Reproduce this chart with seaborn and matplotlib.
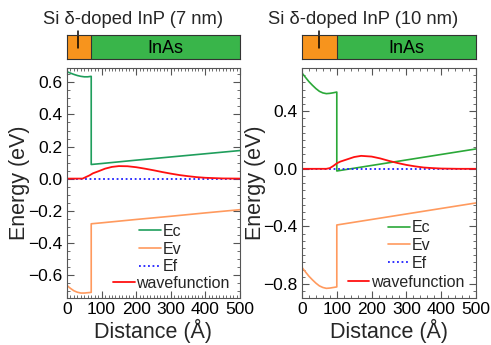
import matplotlib
matplotlib.use("Agg")
import matplotlib.pyplot as plt
from matplotlib.ticker import MultipleLocator
import seaborn as sns
import pandas as pd

sns.set_theme(style="white")
plt.rcParams['font.family'] = ['Liberation Sans', 'DejaVu Sans']

# ---------------- data ----------------
titles = ["Si δ-doped InP (7 nm)", "Si δ-doped InP (10 nm)"]
layer_label = "InAs"
inp_thickness = [70, 100]          # Å
dopant_pos = [32, 49]              # Å
legend_labels = ["Ec", "Ev", "Ef", "wavefunction"]

# left panel (7 nm)
xb_L = [0, 10, 20, 30, 40, 50, 60, 70, 70, 100, 200, 300, 400, 500]
Ec_L = [0.667, 0.658, 0.650, 0.643, 0.638, 0.635, 0.635, 0.638, 0.088, 0.094, 0.115, 0.135, 0.155, 0.175]
Ev_L = [-0.667, -0.685, -0.700, -0.709, -0.714, -0.714, -0.712, -0.710, -0.282, -0.276, -0.255, -0.235, -0.214, -0.194]
xw_L = [0, 45, 55, 65, 75, 90, 110, 130, 150, 175, 200, 225, 250, 275, 300, 325, 350, 375, 400, 450, 500]
wf_L = [0, 0, 0.010, 0.020, 0.033, 0.045, 0.062, 0.073, 0.078, 0.077, 0.071, 0.062, 0.052, 0.041, 0.031, 0.022, 0.015, 0.009, 0.005, 0.001, 0]

# right panel (10 nm)
xb_R = [0, 10, 20, 30, 40, 50, 60, 70, 80, 90, 100, 100, 500]
Ec_R = [0.665, 0.635, 0.605, 0.580, 0.557, 0.538, 0.527, 0.522, 0.524, 0.528, 0.533, -0.015, 0.138]
Ev_R = [-0.685, -0.716, -0.746, -0.771, -0.794, -0.813, -0.824, -0.830, -0.828, -0.824, -0.820, -0.390, -0.237]
xw_R = [0, 70, 80, 90, 100, 110, 125, 150, 170, 200, 225, 250, 275, 300, 325, 350, 375, 400, 450, 500]
wf_R = [0, 0, 0.005, 0.020, 0.038, 0.050, 0.062, 0.082, 0.090, 0.085, 0.072, 0.055, 0.040, 0.027, 0.017, 0.009, 0.005, 0.002, 0, 0]

xf = [0, 500]
Ef = [0, 0]

panels = [
    dict(xb=xb_L, Ec=Ec_L, Ev=Ev_L, xw=xw_L, wf=wf_L, ylim=(-0.745, 0.69),
         ymaj=0.2, ymin=0.05, xmin_tick=10, ec_color="#1f9e5c",
         leg1=(0.416, 0.212), leg2=(0.266, 0.064)),
    dict(xb=xb_R, Ec=Ec_R, Ev=Ev_R, xw=xw_R, wf=wf_R, ylim=(-0.897, 0.70),
         ymaj=0.4, ymin=0.05, xmin_tick=20, ec_color="#2aa838",
         leg1=(0.494, 0.228), leg2=(0.264, 0.069)),
]

# ---------------- figure ----------------
W, H = 491, 345
fig = plt.figure(figsize=(W / 100, H / 100), dpi=100)

def frac(x0, y0, x1, y1):
    return [x0 / W, 1 - y1 / H, (x1 - x0) / W, (y1 - y0) / H]

ax_px = [(67, 68, 240, 298), (302, 68, 476, 298)]
bar_px = [(67, 35, 240, 59), (302, 35, 476, 59)]
title_cx = [133, 363]
ylabel_x = [20, 255]

ev_color = "#ff9a5e"
wf_color = "#ff1010"
ef_color = "#2020ff"
frame_color = "#555555"

leg_kw = dict(frameon=False, fontsize=11.5, handlelength=1.35, handletextpad=0.12,
              labelspacing=0.17, borderaxespad=0, borderpad=0, loc="center left")

for i, p in enumerate(panels):
    ax = fig.add_axes(frac(*ax_px[i]))
    db = pd.DataFrame({"x": p["xb"], "Ec": p["Ec"], "Ev": p["Ev"]})
    dw = pd.DataFrame({"x": p["xw"], "wf": p["wf"]})
    df = pd.DataFrame({"x": xf, "Ef": Ef})
    sns.lineplot(data=db, x="x", y="Ec", ax=ax, color=p["ec_color"], lw=1.2,
                 estimator=None, sort=False, label=legend_labels[0])
    sns.lineplot(data=db, x="x", y="Ev", ax=ax, color=ev_color, lw=1.2,
                 estimator=None, sort=False, label=legend_labels[1])
    sns.lineplot(data=df, x="x", y="Ef", ax=ax, color=ef_color, lw=1.3,
                 linestyle=(0, (1, 1.5)), estimator=None, sort=False, label=legend_labels[2])
    sns.lineplot(data=dw, x="x", y="wf", ax=ax, color=wf_color, lw=1.3,
                 estimator=None, sort=False, label=legend_labels[3])
    ax.set_xlim(0, 500)
    ax.set_ylim(*p["ylim"])
    ax.xaxis.set_major_locator(MultipleLocator(100))
    ax.xaxis.set_minor_locator(MultipleLocator(p["xmin_tick"]))
    ax.yaxis.set_major_locator(MultipleLocator(p["ymaj"]))
    ax.yaxis.set_minor_locator(MultipleLocator(p["ymin"]))
    ax.tick_params(which="both", direction="in", top=True, right=True,
                   bottom=True, left=True, color=frame_color, labelsize=12.5,
                   labelcolor="black", pad=3)
    ax.tick_params(which="major", length=5, width=0.8)
    ax.tick_params(which="minor", length=2.5, width=0.6)
    for s in ax.spines.values():
        s.set_color(frame_color)
        s.set_linewidth(0.8)
    ax.set_xlabel("Distance (Å)", fontsize=15.5, labelpad=1)
    ax.set_ylabel("")
    fig.text(ylabel_x[i] / W, 1 - ((ax_px[i][1] + ax_px[i][3]) / 2) / H, "Energy (eV)",
             rotation=90, ha="center", va="center", fontsize=15.5)
    ax.grid(False)

    handles, labels = ax.get_legend_handles_labels()
    if ax.get_legend() is not None:
        ax.get_legend().remove()
    leg1 = ax.legend(handles[:3], labels[:3], bbox_to_anchor=p["leg1"], **leg_kw)
    ax.add_artist(leg1)
    ax.legend(handles[3:], labels[3:], bbox_to_anchor=p["leg2"], **leg_kw)

    # layer bar
    bx = fig.add_axes(frac(*bar_px[i]))
    bx.axvspan(0, inp_thickness[i], color="#f7941d", lw=0)
    bx.axvspan(inp_thickness[i], 500, color="#39b54a", lw=0)
    bx.axvline(inp_thickness[i], color="#333333", lw=0.8)
    bx.set_xlim(0, 500)
    bx.set_ylim(0, 1)
    bx.set_xticks([])
    bx.set_yticks([])
    for s in bx.spines.values():
        s.set_color("#333333")
        s.set_linewidth(0.8)
    bx.text((inp_thickness[i] + 500) / 2, 0.45, layer_label, ha="center", va="center",
            fontsize=13, color="black")
    bx.plot([dopant_pos[i], dopant_pos[i]], [0.45, 1.15], color="black", lw=1.1,
            clip_on=False)
    fig.text(title_cx[i] / W, 1 - 20 / H, titles[i], ha="center", va="center",
             fontsize=13.2)

fig.savefig("out.png", dpi=100)
